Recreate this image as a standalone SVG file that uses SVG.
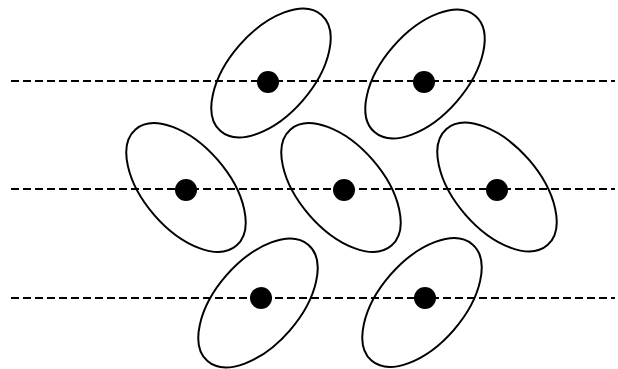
<svg xmlns="http://www.w3.org/2000/svg" width="618" height="369" viewBox="0 0 618 369">
<style>
.ell{fill:none;stroke:#000;stroke-width:2}
.dot{fill:#000}
.dash{stroke:#000;stroke-width:2;stroke-dasharray:8 4;fill:none}
</style>
<rect width="618" height="369" fill="#fff"/>
<g id="connectors">
<line class="dash" x1="11" y1="81" x2="615" y2="81"/>
<line class="dash" x1="11" y1="189" x2="615" y2="189"/>
<line class="dash" x1="11" y1="298" x2="615" y2="298"/>
</g>
<g id="n1"><ellipse class="ell" cx="271" cy="73" rx="77" ry="42" transform="rotate(-49 271 73)"/><circle class="dot" cx="268" cy="82" r="11"/></g>
<g id="n2"><ellipse class="ell" cx="425" cy="74" rx="77" ry="42" transform="rotate(-49 425 74)"/><circle class="dot" cx="424" cy="82" r="11"/></g>
<g id="n3"><ellipse class="ell" cx="186" cy="187.5" rx="77" ry="42" transform="rotate(49 186 187.5)"/><circle class="dot" cx="186" cy="190" r="11"/></g>
<g id="n4"><ellipse class="ell" cx="341" cy="187.5" rx="77" ry="42" transform="rotate(49 341 187.5)"/><circle class="dot" cx="344" cy="190" r="11"/></g>
<g id="n5"><ellipse class="ell" cx="497" cy="187" rx="77" ry="42" transform="rotate(49 497 187)"/><circle class="dot" cx="497" cy="190" r="11"/></g>
<g id="n6"><ellipse class="ell" cx="258" cy="303" rx="77" ry="42" transform="rotate(-49 258 303)"/><circle class="dot" cx="261" cy="298" r="11"/></g>
<g id="n7"><ellipse class="ell" cx="422" cy="302.5" rx="77" ry="42" transform="rotate(-49 422 302.5)"/><circle class="dot" cx="425" cy="298" r="11"/></g>
</svg>
